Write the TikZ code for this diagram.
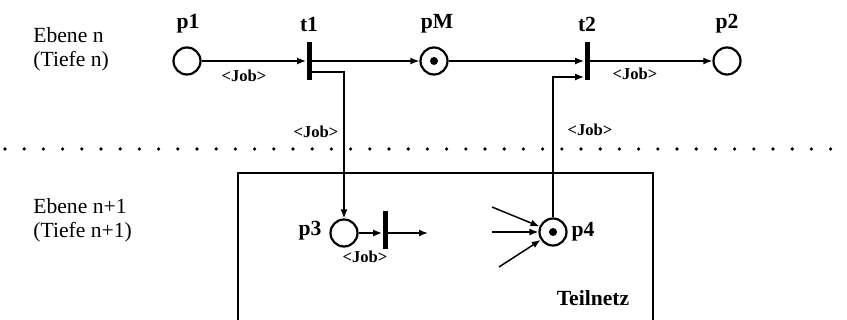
\documentclass[tikz,border=0pt]{standalone}
\usepackage{fontspec}
\setmainfont{Liberation Serif}
\usetikzlibrary{arrows.meta}

\begin{document}
\begin{tikzpicture}[x=0.5pt,y=-0.5pt,
  font=\fontsize{10.8}{12}\selectfont,
  place/.style={circle,draw,line width=1.1pt,minimum size=13.5pt,inner sep=0pt},
  trans/.style={fill=black,minimum width=2.5pt,minimum height=19pt,inner sep=0pt},
  arc/.style={line width=0.75pt,-{Latex[length=4.5pt,width=3.5pt]}},
  lab/.style={font=\fontsize{10.8}{12}\selectfont\bfseries},
  job/.style={font=\fontsize{8.3}{9}\selectfont\bfseries}]
  \useasboundingbox (0,0) rectangle (847,320);

  % Levels
  \node[align=left,anchor=west,inner sep=0pt] (ebn) at (33,49) {Ebene n\\(Tiefe n)};
  \node[align=left,anchor=west,inner sep=0pt] (ebn1) at (33,220) {Ebene n+1\\(Tiefe n+1)};
  \foreach \i in {0,...,43} {
    \fill ({5+19.2*\i},149) circle (0.9pt);
  }

  % Subnet box
  \draw[line width=0.75pt] (238,320) |- (653,173) -- (653,320);
  \node[lab] (teil) at (593,298) {Teilnetz};

  % Upper net
  \node[place] (p1) at (187,61) {};
  \node[trans] (t1) at (309,61) {};
  \node[place] (pM) at (434,61) {};
  \node[trans] (t2) at (587,61) {};
  \node[place] (p2) at (727,61) {};
  \fill (pM.center) circle (2pt);
  \node[lab] (p1lab) at (188,24) {p1};
  \node[lab] (t1lab) at (309,24) {t1};
  \node[lab] (pMlab) at (437,24) {pM};
  \node[lab] (t2lab) at (587,24) {t2};
  \node[lab] (p2lab) at (727,24) {p2};

  % Lower net
  \node[place] (p3) at (344,233) {};
  \node[trans] (t3) at (385,230) {};
  \node[place] (p4) at (553,232) {};
  \fill (p4.center) circle (2pt);
  \node[lab] (p3lab) at (310,231) {p3};
  \node[lab] (p4lab) at (583,232) {p4};
  \coordinate (o3) at (428,233);
  \coordinate (in1) at (492,207);
  \coordinate (in2) at (492,232);
  \coordinate (in3) at (499,267);

  % Arcs
  \draw[arc] (p1) -- (t1);
  \draw[arc] (t1) -- (pM);
  \draw[arc] (pM) -- (t2);
  \draw[arc] (t2) -- (p2);
  \draw[arc] ([yshift=-5.5pt]t1.east) -| (p3);
  \draw[arc] (p4) |- ([yshift=-8pt]t2.west);
  \draw[arc] (p3) -- (t3.west |- p3);
  \draw[arc] (t3.east |- p3) -- (o3);
  \foreach \c in {in1,in2,in3} {
    \draw[arc] (\c) -- (p4);
  }

  % Arc labels
  \node[job] (j1) at (244,76) {<Job>};
  \node[job] (j2) at (316,132) {<Job>};
  \node[job] (j3) at (635,74) {<Job>};
  \node[job] (j4) at (590,130) {<Job>};
  \node[job] (j5) at (365,257) {<Job>};
\end{tikzpicture}
\end{document}
